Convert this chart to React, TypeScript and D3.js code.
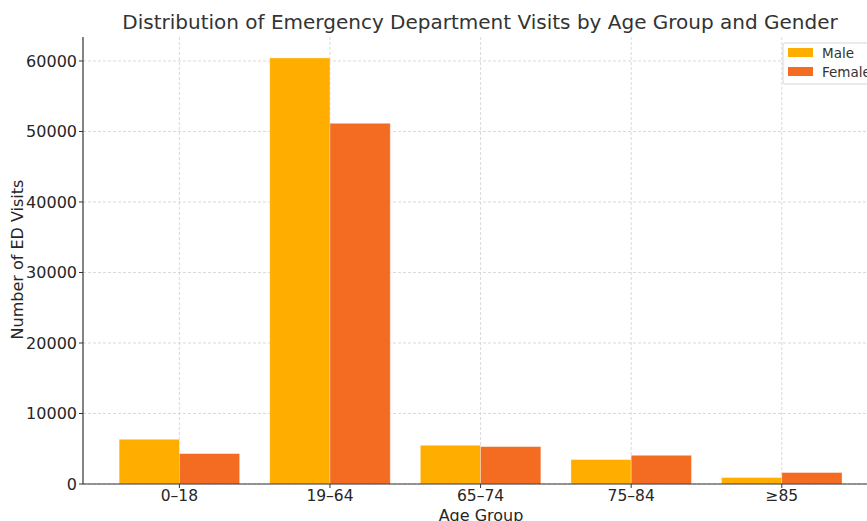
import React from "react";
import * as d3 from "d3";

const categories = ["0–18", "19–64", "65–74", "75–84", "≥85"];
const maleValues = [6340, 60430, 5490, 3460, 910];
const femaleValues = [4310, 51160, 5300, 4070, 1620];
const yTicks = [0, 10000, 20000, 30000, 40000, 50000, 60000];
const seriesNames = ["Male", "Female"];
const seriesColors = ["#FFAE00", "#F46B22"];

const W = 867;
const H = 521;
const left = 83;
const top = 37;
const bottom = 484;

export default function App() {
  const x = d3.scaleLinear().domain([-0.64, 4.64]).range([left, left + 5.28 * 150.6]);
  const y = d3.scaleLinear().domain([0, 63400]).range([bottom, top]);
  const bw = 0.4;
  const font = "DejaVu Sans, sans-serif";
  const series = [maleValues, femaleValues];

  return (
    <svg width={W} height={H} style={{ position: "absolute", left: 0, top: 0 }} fontFamily={font}>
      <rect width={W} height={H} fill="#fff" />
      {yTicks.map((t) => (
        <line key={"gy" + t} x1={left} x2={W} y1={y(t)} y2={y(t)} stroke="#cfcfcf" strokeWidth={0.8} strokeDasharray="3,2" />
      ))}
      {categories.map((c, i) => (
        <line key={"gx" + c} x1={x(i)} x2={x(i)} y1={top} y2={bottom} stroke="#cfcfcf" strokeWidth={0.8} strokeDasharray="3,2" />
      ))}
      {series.map((vals, s) =>
        vals.map((v, i) => {
          const x0 = x(i + (s === 0 ? -bw : 0));
          const x1 = x(i + (s === 0 ? 0 : bw));
          return (
            <rect key={s + "-" + i} x={x0} y={y(v)} width={x1 - x0} height={bottom - y(v)} fill={seriesColors[s]} stroke="#fff" strokeOpacity={0.4} strokeWidth={0.8} />
          );
        })
      )}
      <line x1={left} x2={left} y1={top} y2={bottom} stroke="#333" strokeWidth={1.2} />
      <line x1={left} x2={W} y1={bottom} y2={bottom} stroke="#333" strokeWidth={1.2} />
      {yTicks.map((t) => (
        <g key={"ty" + t}>
          <line x1={left - 4} x2={left} y1={y(t)} y2={y(t)} stroke="#333" strokeWidth={1} />
          <text x={left - 6} y={y(t)} dy="0.36em" textAnchor="end" fontSize={16} fill="#262626">{t}</text>
        </g>
      ))}
      {categories.map((c, i) => (
        <g key={"tx" + c}>
          <line x1={x(i)} x2={x(i)} y1={bottom} y2={bottom + 4} stroke="#333" strokeWidth={1} />
          <text x={x(i)} y={bottom + 17} textAnchor="middle" fontSize={15.5} fill="#262626">{c}</text>
        </g>
      ))}
      <text x={481} y={521} textAnchor="middle" fontSize={16} fill="#262626">Age Group</text>
      <text transform={`translate(23,${(top + bottom) / 2 - 1}) rotate(-90)`} textAnchor="middle" fontSize={16} fill="#262626">Number of ED Visits</text>
      <text x={480} y={29} textAnchor="middle" fontSize={20} fill="#333">Distribution of Emergency Department Visits by Age Group and Gender</text>
      <rect x={783} y={43} width={100} height={41} rx={2} fill="#fff" fillOpacity={0.85} stroke="#d6d6d6" strokeWidth={1} />
      {seriesNames.map((n, i) => (
        <g key={n}>
          <rect x={788} y={48 + i * 19} width={25} height={9} fill={seriesColors[i]} />
          <text x={822} y={58 + i * 19} fontSize={13.5} fill="#333">{n}</text>
        </g>
      ))}
    </svg>
  );
}
